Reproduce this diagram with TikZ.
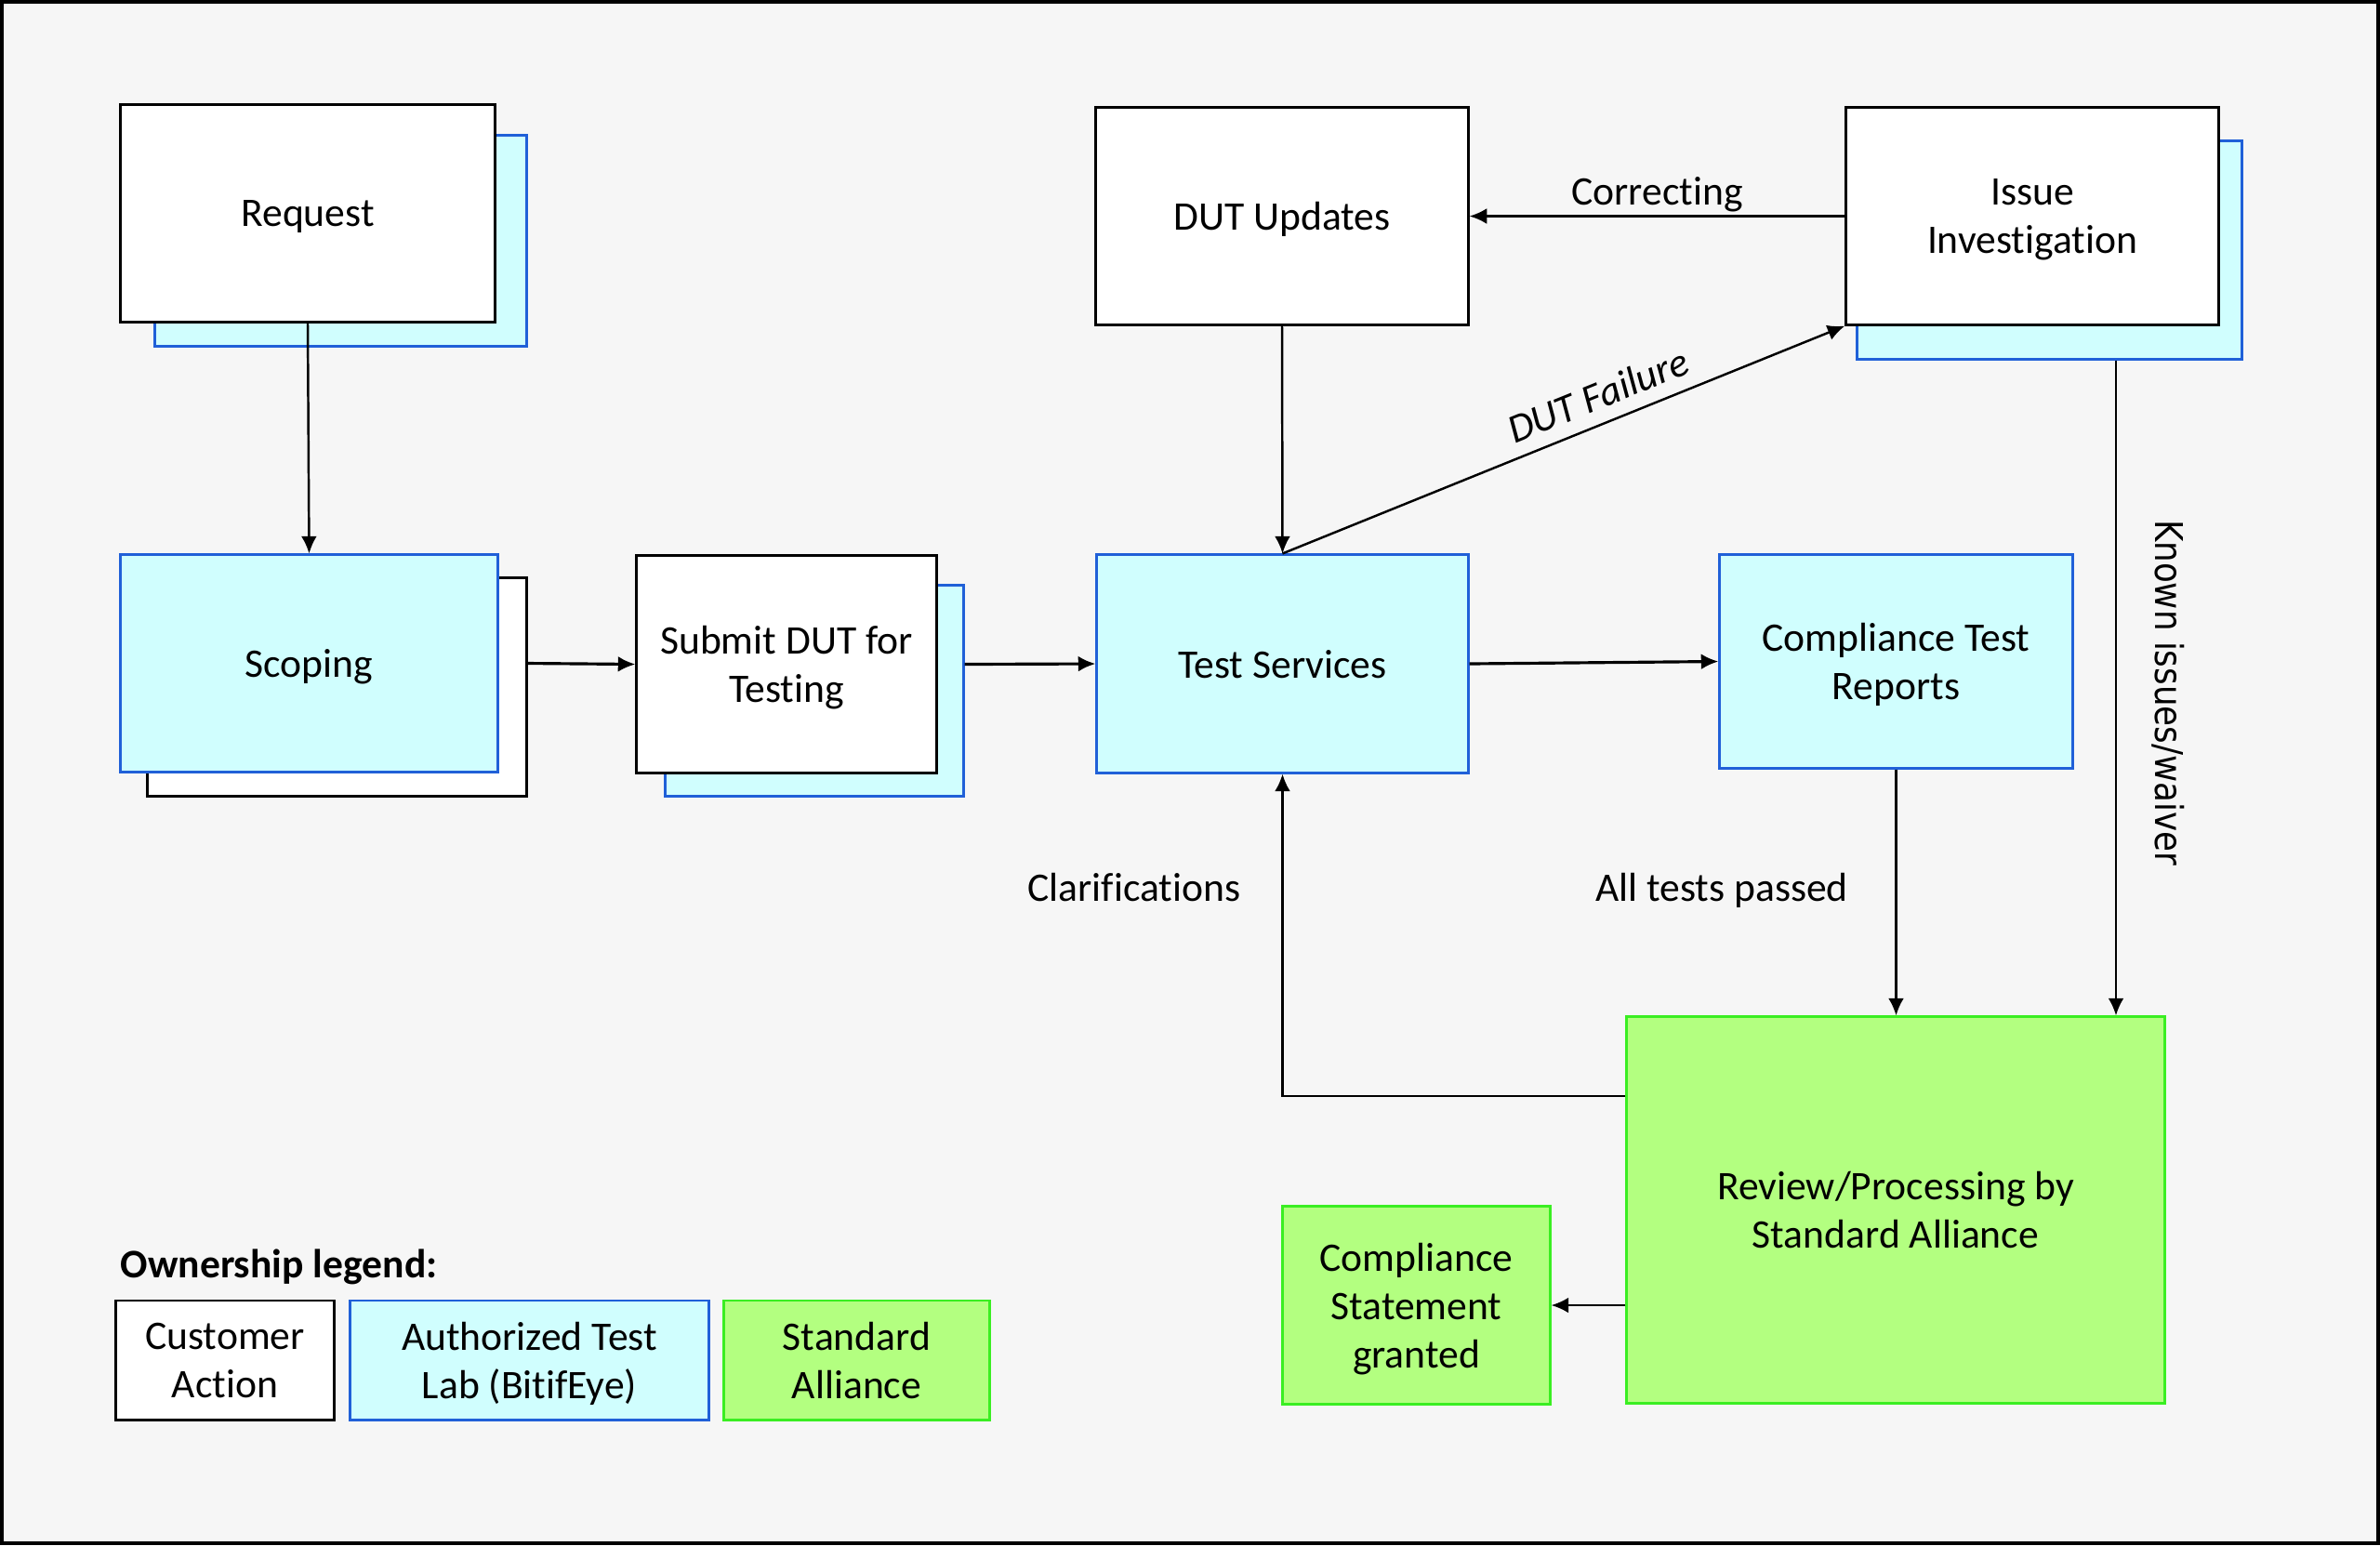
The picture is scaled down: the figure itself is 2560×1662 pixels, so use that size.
\documentclass[tikz,border=0pt]{standalone}
\usepackage{graphicx}
\usepackage{fontspec}
\setmainfont{Carlito}[Ligatures=NoCommon]
\newfontfamily\djv{DejaVu Sans}
\usetikzlibrary{arrows.meta,calc}
\definecolor{bgc}{HTML}{F6F6F6}
\definecolor{cyanf}{HTML}{D0FEFE}
\definecolor{bluel}{HTML}{2060D8}
\definecolor{greenf}{HTML}{B3FF80}
\definecolor{greenl}{HTML}{3AEE22}
\newcommand\mainf{\fontsize{12.4}{14.8}\selectfont}
\begin{document}
\begin{tikzpicture}[x=0.01cm,y=-0.01cm,
  box/.style={draw, line width=0.85pt, inner sep=0pt, align=center, font=\mainf, text depth=0pt},
  cust/.style={box, fill=white, draw=black},
  lab/.style={box, fill=cyanf, draw=bluel},
  sa/.style={box, fill=greenf, draw=greenl},
  arr/.style={-{Latex[length=5.3pt,width=4.8pt]}, line width=0.7pt},
  harr/.style={arr, line width=0.9pt},
  lbl/.style={font=\mainf, inner sep=0pt}]
\useasboundingbox (0,0) rectangle (2560,1662);
\draw[fill=bgc, line width=1.15pt] (2,2) rectangle (2558,1660);

% shadows first
\node[lab, minimum width=3.99cm, minimum height=2.26cm] (requestsh) at (366.5,259) {};
\node[cust, minimum width=4.02cm, minimum height=2.33cm] (request) at (331,229.5) {Request};

\node[cust, minimum width=4.07cm, minimum height=2.34cm] (scopingsh) at (362.5,739) {};
\node[lab, minimum width=4.05cm, minimum height=2.33cm] (scoping) at (332.5,713.5) {Scoping};

\node[lab, minimum width=3.20cm, minimum height=2.26cm] (submitsh) at (876,743) {};
\node[cust, minimum width=3.22cm, minimum height=2.33cm] (submit) at (846,714.5) {Submit DUT for\\Testing};

\node[cust, minimum width=4.00cm, minimum height=2.33cm] (dut) at (1379,232.5) {DUT Updates};

\node[lab, minimum width=4.13cm, minimum height=2.34cm] (issuesh) at (2204.5,269) {};
\node[cust, minimum width=4.00cm, minimum height=2.33cm] (issue) at (2186,232.5) {Issue\\Investigation};

\node[lab, minimum width=3.99cm, minimum height=2.34cm] (test) at (1379.5,714) {Test Services};
\node[lab, minimum width=3.79cm, minimum height=2.29cm] (ctr) at (2039.5,711.5) {Compliance Test\\Reports};

\node[sa, minimum width=5.78cm, minimum height=4.15cm] (review) at (2039,1301.5) {Review/Processing by\\Standard Alliance};
\node[sa, minimum width=2.87cm, minimum height=2.12cm] (cs) at (1523.5,1404) {Compliance\\Statement\\granted};

% legend
\node[lbl, anchor=base west, font=\mainf\bfseries] (legtitle) at (129,1374) {Ownership legend:};
\node[cust, minimum width=2.34cm, minimum height=1.28cm] (leg1) at (242,1463) {Customer\\Action};
\node[lab, minimum width=3.85cm, minimum height=1.28cm] (leg2) at (569.5,1463) {Authorized Test\\Lab (BitifEye)};
\node[sa, minimum width=2.85cm, minimum height=1.28cm] (leg3) at (921.5,1463) {Standard\\Alliance};

% connectors
\draw[arr] (request.south) -- (scoping.north);
\draw[harr] (scoping.east -| scopingsh.east) -- (submit.west);
\draw[harr] (submit.east -| submitsh.east) -- (test.west);
\draw[harr] (test.east) -- (ctr.west);
\draw[arr] (dut.south) -- (test.north);
\draw[arr] (test.north) -- (issue.south west)
  node[pos=0.58, sloped, above=4pt, inner sep=0pt, font=\mainf\itshape] (dutfail) {DUT Failure};
\draw[arr] (issue.west) -- (dut.east)
  node[midway, anchor=base, yshift=3.3pt, lbl] (corr) {Correcting};
\coordinate (kstart) at ($(issuesh.south)+(71.5,0)$);
\draw[arr] (kstart) -- (kstart |- review.north);
\draw[arr] (ctr.south) -- (ctr.south |- review.north);
\coordinate (clar) at ($(review.west)+(0,-122.5)$);
\draw[arr] (clar) -| (test.south);
\draw[arr] (review.west |- cs.east) -- (cs.east);

% free labels
\node[lbl, anchor=base] (clarlbl) at (1220,969) {Clarifications};
\node[lbl, anchor=base] (passlbl) at (1852,969) {All tests passed};
\node[rotate=-90, inner sep=0pt, font=\djv\fontsize{11.7}{14}\selectfont] (known) at (2332,745) {\scalebox{0.867}[1]{Known issues/waiver}};
\end{tikzpicture}
\end{document}
